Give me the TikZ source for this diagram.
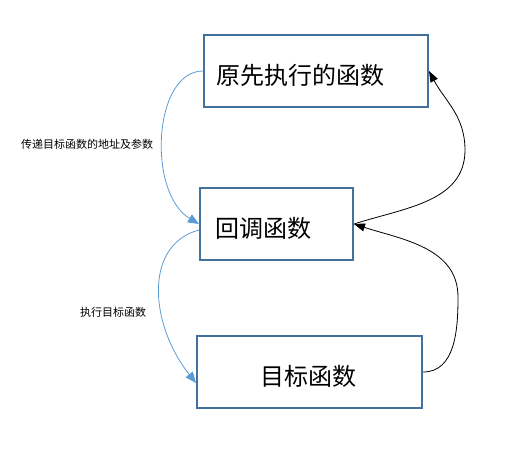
\documentclass[tikz,border=0pt]{standalone}
\usepackage{fontspec}
\setmainfont{Noto Sans CJK SC}
\usetikzlibrary{arrows.meta}
\definecolor{boxblue}{HTML}{41719C}
\definecolor{arrowblue}{HTML}{5B9BD5}
\begin{document}
\begin{tikzpicture}[x=1pt,y=1pt,
  box/.style={draw=boxblue,line width=2pt,minimum width=#1,minimum height=72pt,inner sep=0pt},
  boxtext/.style={anchor=base west,inner sep=0pt,font=\fontsize{24}{28}\selectfont},
  lbl/.style={inner sep=0pt,font=\fontsize{11}{13}\selectfont},
  bluearrow/.style={draw=arrowblue,line width=0.8pt,-{Triangle[length=11pt,width=9pt]},arrowblue},
  blackarrow/.style={draw=black,line width=0.8pt,-{Triangle[length=11pt,width=8pt]}}]
\useasboundingbox (0,0) rectangle (506,-461);
% boxes
\node[box=224pt] (b1) at (316,-71) {};
\node[box=153pt] (b2) at (276.5,-224) {};
\node[box=225pt] (b3) at (309.5,-372) {};
% box texts
\node[boxtext] (t1) at (216,-84) {原先执行的函数};
\node[boxtext] (t2) at (215,-237) {回调函数};
\node[boxtext] (t3) at (260,-385) {目标函数};
% labels
\node[lbl] (l1) at (87,-144) {传递目标函数的地址及参数};
\node[lbl] (l2) at (113,-312) {执行目标函数};
% blue arrows
\draw[bluearrow] (b1.west) .. controls (153,-71) and (147,-193) .. (b2.west);
\draw[bluearrow] ([yshift=-6pt]b2.west) .. controls (143,-245) and (150,-325) .. ([yshift=-11pt]b3.west);
% black arrows
\draw[blackarrow] (b2.east) to[out=18,in=-90] (465,-150) to[out=90,in=-62] (b1.east);
\draw[blackarrow] (b3.east) to[out=0,in=-90] (458,-297) to[out=90,in=-18] (b2.east);
\end{tikzpicture}
\end{document}
